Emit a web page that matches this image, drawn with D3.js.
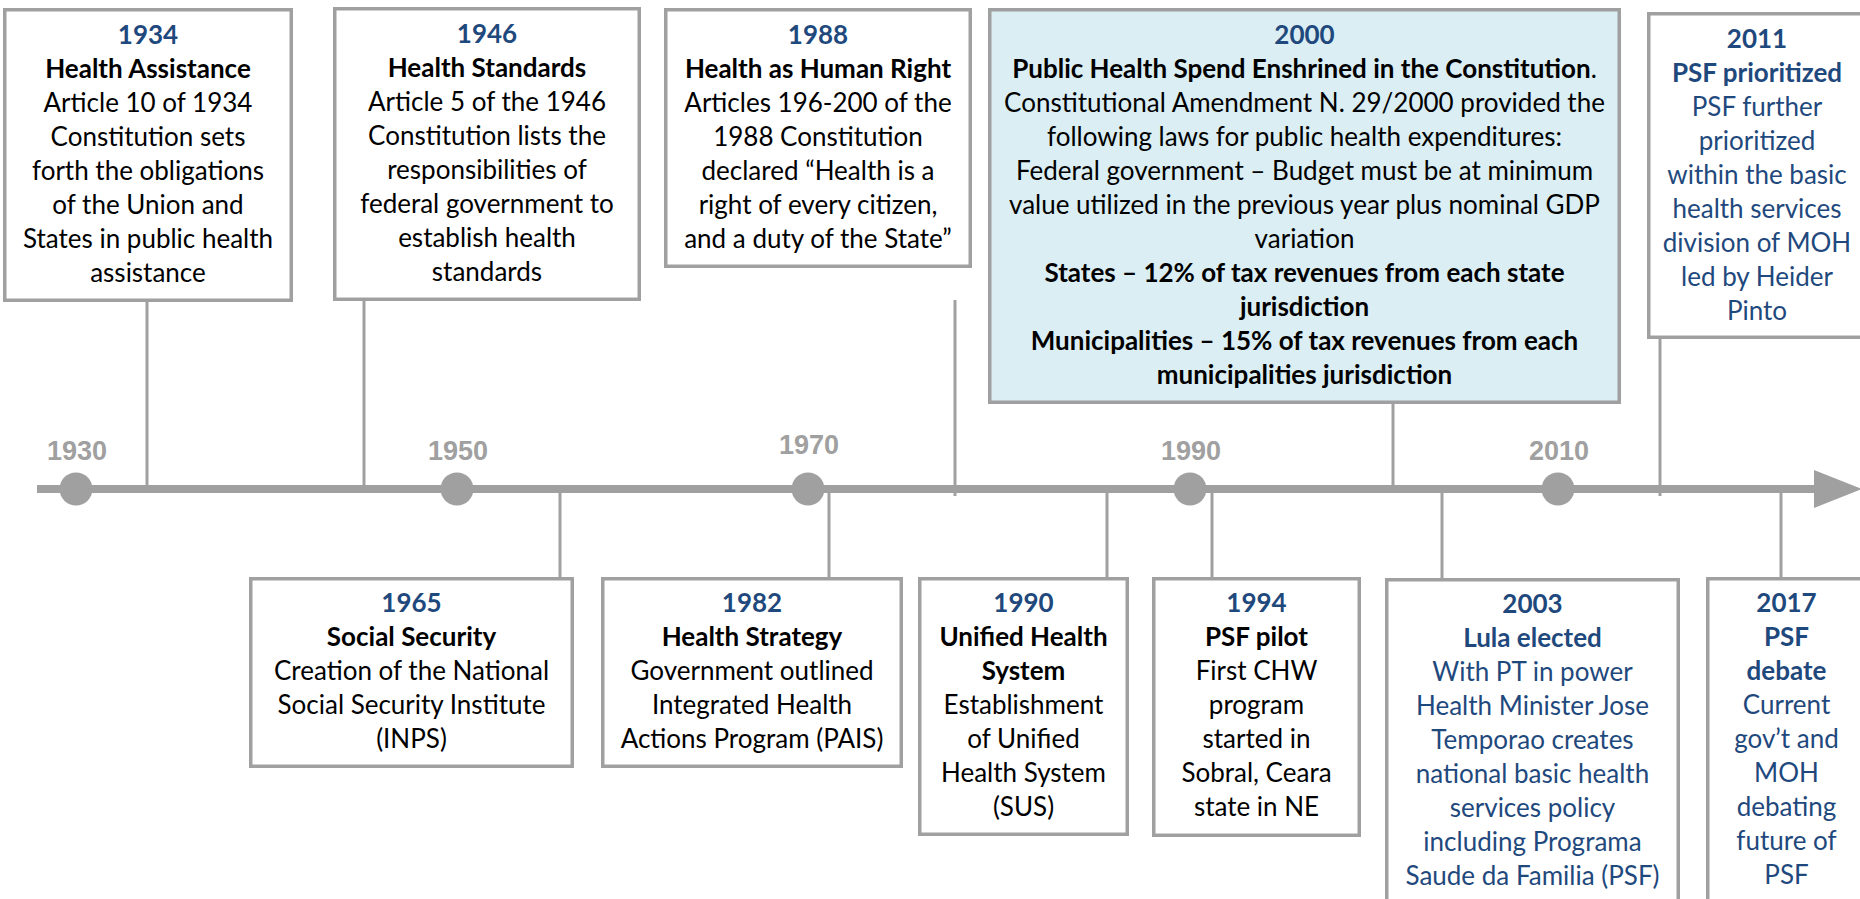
<!DOCTYPE html>
<html>
<head>
<meta charset="utf-8">
<script src="https://cdn.jsdelivr.net/npm/d3@7/dist/d3.min.js"></script>
<style>
  html, body { margin: 0; padding: 0; background: #ffffff; }
  svg { display: block; }
</style>
</head>
<body>
<svg id="chart" width="1860" height="899"></svg>
<script>
// ---------------- DATA ----------------
const axisYears = [1930, 1950, 1970, 1990, 2010];

const eventYears = ["1934", "1946", "1988", "2000", "2011", "1965", "1982", "1990", "1994", "2003", "2017"];
const eventSides = ["top", "top", "top", "top", "top", "bottom", "bottom", "bottom", "bottom", "bottom", "bottom"];
const eventTitles = [
  ["Health Assistance"],
  ["Health Standards"],
  ["Health as Human Right"],
  ["Public Health Spend Enshrined in the Constitution"],
  ["PSF prioritized"],
  ["Social Security"],
  ["Health Strategy"],
  ["Unified Health", "System"],
  ["PSF pilot"],
  ["Lula elected"],
  ["PSF", "debate"]
];
const eventBodies = [
  ["Article 10 of 1934", "Constitution sets", "forth the obligations", "of the Union and", "States in public health", "assistance"],
  ["Article 5 of the 1946", "Constitution lists the", "responsibilities of", "federal government to", "establish health", "standards"],
  ["Articles 196-200 of the", "1988 Constitution", "declared \u201cHealth is a", "right of every citizen,", "and a duty of the State\u201d"],
  ["Constitutional Amendment N. 29/2000 provided the", "following laws for public health expenditures:", "Federal government \u2013 Budget must be at minimum", "value utilized in the previous year plus nominal GDP", "variation"],
  ["PSF further", "prioritized", "within the basic", "health services", "division of MOH", "led by Heider", "Pinto"],
  ["Creation of the National", "Social Security Institute", "(INPS)"],
  ["Government outlined", "Integrated Health", "Actions Program (PAIS)"],
  ["Establishment", "of Unified", "Health System", "(SUS)"],
  ["First CHW", "program", "started in", "Sobral, Ceara", "state in NE"],
  ["With PT in power", "Health Minister Jose", "Temporao creates", "national basic health", "services policy", "including Programa", "Saude da Familia (PSF)"],
  ["Current", "gov\u2019t and", "MOH", "debating", "future of", "PSF"]
];
// bold closing lines (only the 2000 box has them)
const eventBoldNotes = [
  [], [], [],
  ["States \u2013 12% of tax revenues from each state", "jurisdiction", "Municipalities \u2013 15% of tax revenues from each", "municipalities jurisdiction"],
  [], [], [], [], [], [], []
];
const titleSuffix = ["", "", "", ".", "", "", "", "", "", "", ""];
const eventBlueText = [false, false, false, false, true, false, false, false, false, true, true];
const eventShaded = [false, false, false, true, false, false, false, false, false, false, false];

// ---------------- LAYOUT (positions / sizes) ----------------
const axisPixels = [76, 457, 808, 1190, 1558];
const axisLabelLift = [0, 0, 6, 0, 0];
const axisY = 489;
const boxLayout = {
  "1934": { x0: 3,    x1: 293,  y0: 8,   y1: 302, cx: 147,  c0: 302, c1: 489 },
  "1946": { x0: 333,  x1: 641,  y0: 7,   y1: 301, cx: 364,  c0: 301, c1: 489 },
  "1988": { x0: 664,  x1: 972,  y0: 8,   y1: 268, cx: 955,  c0: 300, c1: 496 },
  "2000": { x0: 988,  x1: 1621, y0: 8,   y1: 404, cx: 1393, c0: 404, c1: 488 },
  "2011": { x0: 1647, x1: 1867, y0: 12,  y1: 339, cx: 1660, c0: 339, c1: 496 },
  "1965": { x0: 249,  x1: 574,  y0: 577, y1: 768, cx: 560,  c0: 489, c1: 577 },
  "1982": { x0: 601,  x1: 903,  y0: 577, y1: 768, cx: 829,  c0: 489, c1: 577 },
  "1990": { x0: 918,  x1: 1129, y0: 577, y1: 836, cx: 1107, c0: 489, c1: 577 },
  "1994": { x0: 1152, x1: 1361, y0: 577, y1: 837, cx: 1212, c0: 489, c1: 577 },
  "2003": { x0: 1385, x1: 1680, y0: 578, y1: 940, cx: 1442, c0: 489, c1: 578 },
  "2017": { x0: 1706, x1: 1867, y0: 577, y1: 940, cx: 1781, c0: 489, c1: 577 }
};

const GRAY = "#a0a0a0";
const BLUE = "#1f497d";
const FONT = "Lato, 'Open Sans', sans-serif";
const FS = 26;
const LH = 34;

// ---------------- DRAW ----------------
const svg = d3.select("#chart");

const x = d3.scaleLinear().domain(axisYears).range(axisPixels);

const events = eventYears.map((y, i) => ({
  year: y, side: eventSides[i], title: eventTitles[i], suffix: titleSuffix[i],
  body: eventBodies[i], notes: eventBoldNotes[i], blue: eventBlueText[i], shaded: eventShaded[i],
  L: boxLayout[y]
}));

// connectors
svg.append("g").selectAll("line").data(events).join("line")
  .attr("x1", d => d.L.cx).attr("x2", d => d.L.cx)
  .attr("y1", d => d.L.c0).attr("y2", d => d.L.c1)
  .attr("stroke", GRAY).attr("stroke-width", 3);

// axis line + arrow
svg.append("line")
  .attr("x1", 37).attr("x2", 1816)
  .attr("y1", axisY).attr("y2", axisY)
  .attr("stroke", GRAY).attr("stroke-width", 8);
svg.append("path")
  .attr("d", `M1814,${axisY - 19} L1862,${axisY} L1814,${axisY + 19} Z`)
  .attr("fill", GRAY);

// year circles + labels
const ticks = svg.append("g");
ticks.selectAll("circle").data(axisYears).join("circle")
  .attr("cx", d => x(d)).attr("cy", axisY).attr("r", 16.5)
  .attr("fill", GRAY);
ticks.selectAll("text").data(axisYears).join("text")
  .attr("x", d => x(d) + 1)
  .attr("y", (d, i) => 460 - axisLabelLift[i])
  .attr("text-anchor", "middle")
  .attr("font-family", "'Liberation Sans', Arial, sans-serif")
  .attr("font-weight", "bold")
  .attr("font-size", 27)
  .attr("fill", GRAY)
  .text(d => d);

// boxes
const boxes = svg.append("g").selectAll("g").data(events).join("g");
boxes.append("rect")
  .attr("x", d => d.L.x0 + 1.75).attr("y", d => d.L.y0 + 1.75)
  .attr("width", d => d.L.x1 - d.L.x0 - 3.5).attr("height", d => d.L.y1 - d.L.y0 - 3.5)
  .attr("fill", d => d.shaded ? "#daeef3" : "#ffffff")
  .attr("stroke", GRAY).attr("stroke-width", 3.5);

boxes.each(function (d) {
  const g = d3.select(this);
  const cxText = (d.L.x0 + d.L.x1) / 2;
  const base = d.L.y0 + (d.side === "top" ? 36 : 35);
  const lines = [];
  lines.push({ t: d.year, bold: true, color: BLUE });
  d.title.forEach((t, k) => lines.push({ t, bold: true, color: d.blue ? BLUE : "#000", suffix: k === d.title.length - 1 ? d.suffix : "" }));
  d.body.forEach(t => lines.push({ t, bold: false, color: d.blue ? BLUE : "#000" }));
  d.notes.forEach(t => lines.push({ t, bold: true, color: d.blue ? BLUE : "#000" }));
  lines.forEach((ln, i) => {
    const tx = g.append("text")
      .attr("x", cxText)
      .attr("y", base + i * LH)
      .attr("text-anchor", "middle")
      .attr("font-family", FONT)
      .attr("font-size", FS)
      .attr("fill", ln.color);
    tx.append("tspan").attr("font-weight", ln.bold ? "bold" : "normal").text(ln.t);
    if (ln.suffix) tx.append("tspan").attr("font-weight", "normal").text(ln.suffix);
  });
});
</script>
</body>
</html>
